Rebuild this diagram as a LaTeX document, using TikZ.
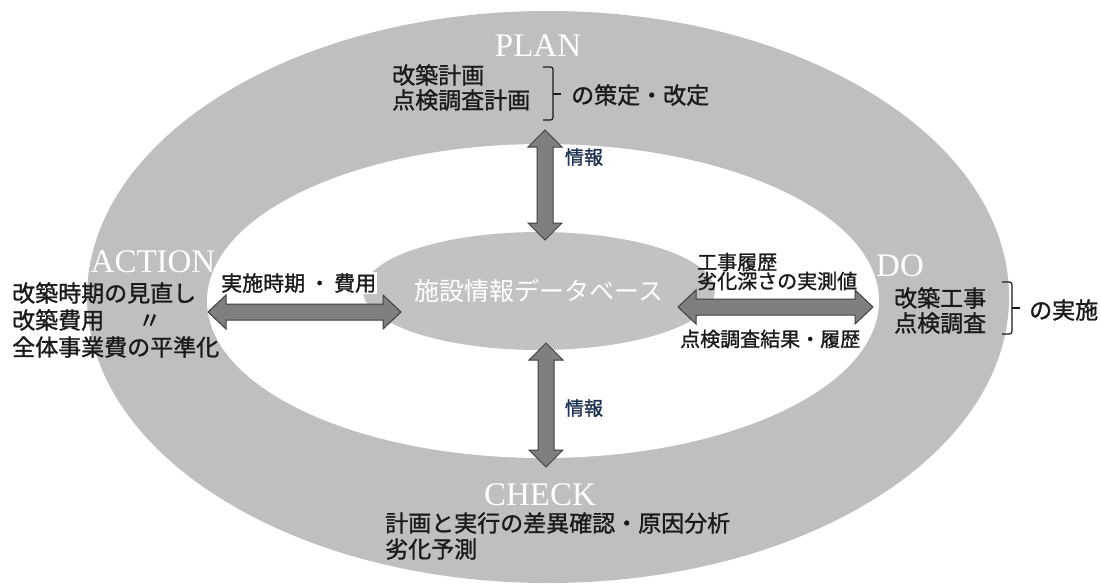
\documentclass[tikz,border=0pt]{standalone}
\usepackage{fontspec}
\setmainfont{Liberation Serif}
\newfontfamily\jp{Noto Sans CJK JP}[FakeBold=1.2]
\newfontfamily\jpl{Noto Sans CJK JP}
\usetikzlibrary{calc,shapes.geometric}
\definecolor{ring}{HTML}{BFBFBF}
\definecolor{dbgray}{HTML}{C2C2C2}
\definecolor{arrowfill}{HTML}{7F7F7F}
\definecolor{arrowline}{HTML}{404040}
\definecolor{txt}{HTML}{1A1A1A}
\definecolor{info}{HTML}{1F3250}
\newcommand\harrowpath[2]{%
  \draw[blockarrow] let \p1=(#1), \p2=(#2) in
    (\x1,\y1) -- (\x1+18pt,\y1+17pt) -- (\x1+18pt,\y1+8pt) -- (\x2-18pt,\y1+8pt)
    -- (\x2-18pt,\y1+17pt) -- (\x2,\y2) -- (\x2-18pt,\y1-17pt) -- (\x2-18pt,\y1-8pt)
    -- (\x1+18pt,\y1-8pt) -- (\x1+18pt,\y1-17pt) -- cycle;}
\newcommand\varrowpath[2]{%
  \draw[blockarrow] let \p1=(#1), \p2=(#2) in
    (\x1,\y1) -- (\x1+17pt,\y1-17pt) -- (\x1+8pt,\y1-17pt) -- (\x1+8pt,\y2+17pt)
    -- (\x1+17pt,\y2+17pt) -- (\x2,\y2) -- (\x1-17pt,\y2+17pt) -- (\x1-8pt,\y2+17pt)
    -- (\x1-8pt,\y1-17pt) -- (\x1-17pt,\y1-17pt) -- cycle;}
\begin{document}
\begin{tikzpicture}[x=1pt,y=-1pt,
  blockarrow/.style={fill=arrowfill, draw=arrowline, line width=1pt, line join=miter},
  phase/.style={text=white, font=\fontsize{33}{36}\selectfont, inner sep=0pt},
  jtxt/.style={text=txt, font=\jp\fontsize{23}{27}\selectfont, inner sep=0pt, align=left, anchor=west},
  stxt/.style={text=txt, font=\jp\fontsize{20}{22}\selectfont, inner sep=0pt, anchor=west},
  infotxt/.style={text=info, font=\jp\fontsize{19}{22}\selectfont, inner sep=0pt},
  bracket/.style={draw=txt, line width=1.2pt, rounded corners=2.5pt}]
\useasboundingbox (0,0) rectangle (1101,587);
\fill[white] (0,0) rectangle (1101,587);
% rings
\fill[ring] (548,297) ellipse [x radius=461pt, y radius=286pt];
\fill[white] (543,301) ellipse [x radius=336pt, y radius=157pt];
% database
\node[ellipse, fill=dbgray, minimum width=288pt, minimum height=118pt, inner sep=0pt,
      text=white, font=\jpl\fontsize{25}{27}\selectfont] (db) at (539,291) {施設情報データベース};
% arrow ends
\coordinate (pT) at (545,130); \coordinate (pB) at (545,240);
\coordinate (cT) at (546,343); \coordinate (cB) at (546,467);
\coordinate (aL) at (208,312); \coordinate (aR) at (401,312);
\coordinate (dL) at (678,307); \coordinate (dR) at (873,307);
\varrowpath{pT}{pB}
\varrowpath{cT}{cB}
\harrowpath{aL}{aR}
\harrowpath{dL}{dR}
% phase labels
\node[phase] (plan) at (538,46) {PLAN};
\node[phase] (action) at (153,262) {ACTION};
\node[phase] (do) at (900,266) {DO};
\node[phase] (check) at (540,495) {CHECK};
% PLAN texts
\node[jtxt] (plan1) at (392,75) {改築計画};
\node[jtxt] (plan2) at (392,100) {点検調査計画};
\draw[bracket] (543,67) -- (553,67) -- (553,120) -- (543,120);
\draw[bracket] (553,94) -- (561,94);
\node[jtxt] (plan3) at (571,95) {の策定・改定};
\node[infotxt] (info1) at (584,157) {情報};
% ACTION texts
\node[jtxt] (act1) at (12,293) {改築時期の見直し};
\node[jtxt] (act2) at (12,320) {改築費用\hspace{34pt}〃};
\node[jtxt] (act3) at (12,347) {全体事業費の平準化};
\node[stxt, fill=white, inner sep=1pt, font=\jp\fontsize{21}{23}\selectfont] (cost) at (220,283) {実施時期\hspace{4pt}・\hspace{4pt}費用};
% DO texts
\node[stxt] (do1) at (697,262) {工事履歴};
\node[stxt] (do2) at (697,281) {劣化深さの実測値};
\node[stxt] (do3) at (680,339) {点検調査結果・履歴};
\node[jtxt] (do4) at (894,298) {改築工事};
\node[jtxt] (do5) at (894,323) {点検調査};
\draw[bracket] (1002,282) -- (1012,282) -- (1012,334) -- (1002,334);
\draw[bracket] (1012,308) -- (1020,308);
\node[jtxt] (do6) at (1029,310) {の実施};
% CHECK texts
\node[infotxt] (info2) at (584,408) {情報};
\node[jtxt] (chk1) at (385,523) {計画と実行の差異確認・原因分析};
\node[jtxt] (chk2) at (385,549) {劣化予測};
\end{tikzpicture}
\end{document}
